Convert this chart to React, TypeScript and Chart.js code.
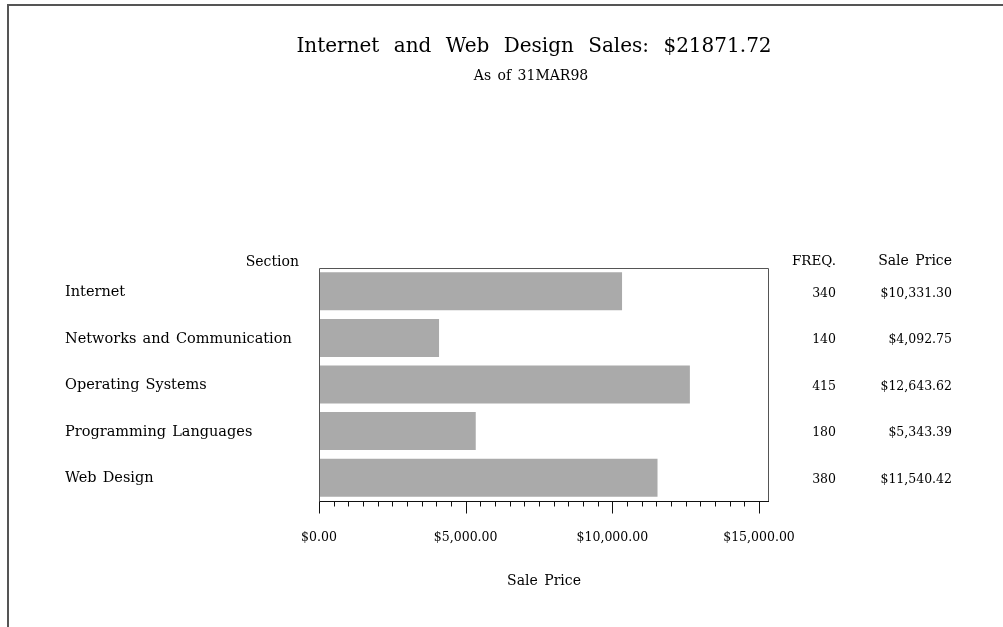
import { useEffect, useRef } from "react";
import { Chart, registerables } from "chart.js";

Chart.register(...registerables);

// ---- data ----
const sections = [
  "Internet",
  "Networks and Communication",
  "Operating Systems",
  "Programming Languages",
  "Web Design",
];
const salePrices = [10331.3, 4092.75, 12643.62, 5343.39, 11540.42];
const freqs = [340, 140, 415, 180, 380];
const salePriceLabels = ["$10,331.30", "$4,092.75", "$12,643.62", "$5,343.39", "$11,540.42"];
const majorTicks = [0, 5000, 10000, 15000];
const majorTickLabels = ["$0.00", "$5,000.00", "$10,000.00", "$15,000.00"];
const minorStep = 500;
const axisMax = 15341;
const titleText = "Internet and Web Design Sales: $21871.72";
const subtitleText = "As of 31MAR98";
const axisTitle = "Sale Price";
const sectionHeader = "Section";
const freqHeader = "FREQ.";
const priceHeader = "Sale Price";

const FONT = "'DejaVu Serif', serif";

const decorPlugin = {
  id: "sasDecor",
  afterDraw(chart: any) {
    const ctx: CanvasRenderingContext2D = chart.ctx;
    const { left, top, right, bottom } = chart.chartArea;
    const xs = chart.scales.x;
    const ys = chart.scales.y;
    const L = Math.round(left) + 0.5;
    const R = Math.round(right) - 0.5;
    const T = Math.round(top) + 0.5;
    const B = Math.round(bottom) + 0.5;
    ctx.save();

    // page frame
    ctx.strokeStyle = "#555555";
    ctx.lineWidth = 2;
    ctx.beginPath();
    ctx.moveTo(8, 627);
    ctx.lineTo(8, 5);
    ctx.lineTo(1003, 5);
    ctx.stroke();

    // plot box
    ctx.lineWidth = 1;
    ctx.strokeStyle = "#555555";
    ctx.beginPath();
    ctx.moveTo(L, B);
    ctx.lineTo(L, T);
    ctx.lineTo(R, T);
    ctx.lineTo(R, B);
    ctx.stroke();

    // axis line + ticks
    ctx.strokeStyle = "#111111";
    ctx.beginPath();
    ctx.moveTo(L, B);
    ctx.lineTo(R + 0.5, B);
    for (let v = 0; v <= axisMax; v += minorStep) {
      const px = Math.round(xs.getPixelForValue(v)) + 0.5;
      const len = majorTicks.includes(v) ? 12 : 5;
      ctx.moveTo(px, B);
      ctx.lineTo(px, B + len);
    }
    ctx.stroke();

    ctx.fillStyle = "#000000";
    const anyCtx = ctx as any;

    // tick labels
    ctx.font = `12.5px ${FONT}`;
    ctx.textAlign = "center";
    ctx.textBaseline = "alphabetic";
    majorTicks.forEach((v, i) => {
      ctx.fillText(majorTickLabels[i], xs.getPixelForValue(v), 541);
    });

    // axis title
    ctx.font = `14px ${FONT}`;
    anyCtx.wordSpacing = "2px";
    ctx.fillText(axisTitle, (left + right) / 2, 585);

    // title & subtitle
    ctx.font = `20px ${FONT}`;
    anyCtx.wordSpacing = "8px";
    ctx.fillText(titleText, 534, 52);
    ctx.font = `14px ${FONT}`;
    anyCtx.wordSpacing = "2px";
    ctx.fillText(subtitleText, 531, 80);

    // headers
    ctx.font = `14px ${FONT}`;
    ctx.textAlign = "right";
    ctx.fillText(sectionHeader, 299, 266);
    ctx.font = `13.5px ${FONT}`;
    ctx.fillText(freqHeader, 836, 265);
    ctx.font = `14px ${FONT}`;
    ctx.fillText(priceHeader, 952, 265);

    // category labels
    ctx.font = `14.5px ${FONT}`;
    ctx.textAlign = "left";
    ctx.textBaseline = "middle";
    anyCtx.wordSpacing = "1.5px";
    sections.forEach((s, i) => {
      ctx.fillText(s, 65, ys.getPixelForValue(i) + 1);
    });

    // value columns
    ctx.font = `12.5px ${FONT}`;
    ctx.textAlign = "right";
    anyCtx.wordSpacing = "0px";
    sections.forEach((_, i) => {
      const cy = ys.getPixelForValue(i) + 2;
      ctx.fillText(String(freqs[i]), 836, cy);
      ctx.fillText(salePriceLabels[i], 952, cy);
    });

    ctx.restore();
  },
};

export default function App() {
  const canvasRef = useRef<HTMLCanvasElement | null>(null);

  useEffect(() => {
    if (!canvasRef.current) return;
    const chart = new Chart(canvasRef.current, {
      type: "bar",
      data: {
        labels: sections,
        datasets: [
          {
            data: salePrices,
            backgroundColor: "#aaaaaa",
            borderWidth: 0,
            barPercentage: 0.815,
            categoryPercentage: 1,
          },
        ],
      },
      options: {
        indexAxis: "y",
        responsive: false,
        animation: false,
        devicePixelRatio: 1,
        layout: { padding: { left: 319, top: 268, right: 234, bottom: 126 } },
        scales: {
          x: { type: "linear", min: 0, max: axisMax, display: false },
          y: { type: "category", display: false, offset: true },
        },
        plugins: {
          legend: { display: false },
          tooltip: { enabled: false },
          title: { display: false },
        },
      },
      plugins: [decorPlugin],
    } as any);
    return () => chart.destroy();
  }, []);

  return (
    <div style={{ position: "absolute", left: 0, top: 0, width: 1003, height: 627, background: "#ffffff" }}>
      <canvas ref={canvasRef} width={1003} height={627} style={{ display: "block" }} />
    </div>
  );
}
